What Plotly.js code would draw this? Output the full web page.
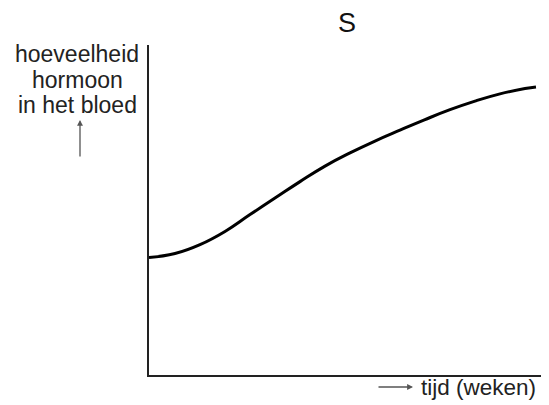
<!DOCTYPE html>
<html><head><meta charset="utf-8">
<script src="https://cdn.plot.ly/plotly-3.0.1.min.js"></script>
<style>html,body{margin:0;padding:0;background:#fff}#c{width:549px;height:405px}</style>
</head><body><div id="c"></div>
<script>
var weeks = [0, 6.63, 13.01, 19.39, 25.77, 32.14, 38.52, 44.90, 51.28, 57.65, 64.03, 70.41, 76.79, 83.16, 89.54, 95.92, 98.72];
var hormone = [35.6, 36.8, 39.5, 43.5, 48.6, 53.6, 58.6, 63.3, 67.3, 70.9, 74.2, 77.4, 80.4, 83.0, 85.2, 86.8, 87.3];
var chartTitle = 'S';
var yLabelLines = ['hoeveelheid', 'hormoon', 'in het bloed'];
var xLabel = 'tijd (weken)';

var font = 'Liberation Sans, Arial, sans-serif';
var trace = {x: weeks, y: hormone, mode: 'lines', line: {color: '#000', width: 3, shape: 'spline', smoothing: 1.3}, hoverinfo: 'skip'};
var lineCentres = [54, 80, 105];
var annotations = [
  {xref: 'paper', yref: 'paper', x: (347-149)/392, y: (375-23)/330, text: chartTitle, showarrow: false, xanchor: 'center', yanchor: 'middle', font: {family: font, size: 27, color: '#111'}},
  {xref: 'paper', yref: 'paper', x: (419-149)/392, y: (375-387)/330, text: xLabel, showarrow: false, xanchor: 'left', yanchor: 'middle', font: {family: font, size: 22.5, color: '#222'}},
  {xref: 'paper', yref: 'paper', x: (80-149)/392, y: (375-120)/330, text: '', showarrow: true, ax: 0, ay: 38, arrowhead: 2, arrowsize: 0.9, arrowwidth: 1.3, arrowcolor: '#555'},
  {xref: 'paper', yref: 'paper', x: (413-149)/392, y: (375-387)/330, text: '', showarrow: true, ax: -36, ay: 0, arrowhead: 2, arrowsize: 0.9, arrowwidth: 1.3, arrowcolor: '#555'}
];
yLabelLines.forEach(function (t, i) {
  annotations.push({xref: 'paper', yref: 'paper', x: (77-149)/392, y: (375-lineCentres[i])/330, text: t, showarrow: false, xanchor: 'center', yanchor: 'middle', font: {family: font, size: 23, color: '#222'}});
});
var layout = {
  width: 549, height: 405,
  margin: {l: 149, r: 8, t: 45, b: 30},
  paper_bgcolor: '#fff', plot_bgcolor: '#fff',
  showlegend: false,
  xaxis: {range: [0, 100], showline: true, linecolor: '#222', linewidth: 2, showgrid: false, zeroline: false, showticklabels: false, ticks: '', fixedrange: true},
  yaxis: {range: [0, 100], showline: true, linecolor: '#222', linewidth: 2, showgrid: false, zeroline: false, showticklabels: false, ticks: '', fixedrange: true},
  annotations: annotations
};
Plotly.newPlot('c', [trace], layout, {displayModeBar: false, staticPlot: true});
</script></body></html>
